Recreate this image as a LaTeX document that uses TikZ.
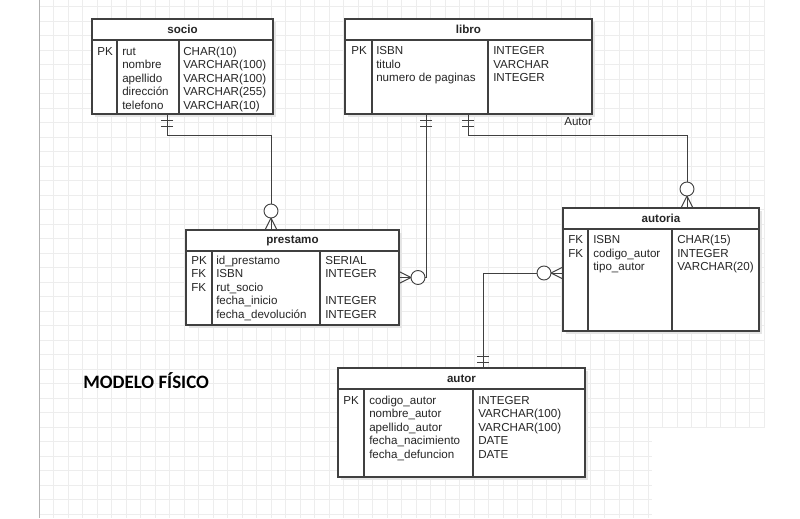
\documentclass[tikz,border=0pt]{standalone}
\usepackage{fontspec}
\setmainfont{Liberation Sans}
\newfontfamily\labelfont{Carlito}
\usetikzlibrary{calc,fit}

\tikzset{
  gridline/.style={draw=black!7,line width=0.5pt},
  tablebox/.style={draw=black!75,fill=white,line width=0.8pt,inner sep=0pt,outer sep=0pt},
  rule/.style={draw=black!75,line width=0.8pt},
  cell/.style={inner sep=0pt,anchor=base west,text=black!85,font=\fontsize{8.7}{10}\selectfont},
  title/.style={inner sep=0pt,text=black!85,font=\fontsize{8.7}{10}\selectfont\bfseries},
  link/.style={draw=black!75,line width=0.7pt},
  pics/onlyone/.style={code={
    \draw[link] (6,-6) -- (6,6);
    \draw[link] (12,-6) -- (12,6);}},
  pics/zeromany/.style={code={
    \draw[link] (0,-6) -- (12,0) -- (0,6);
    \draw[link] (0,0) -- (12,0);
    \draw[link,fill=white] (19,0) circle (7);}},
}

% table: name, x1, y1, x2, y2, column 1, column 2, title
\newcommand{\ertable}[8]{%
  \fill[black!10] (#2+3,#3+3) rectangle (#4+3,#5+3);
  \node[tablebox,fit={(#2,#3) (#4,#5)}] (#1) {};
  \draw[rule] (#2,#3+21) -- (#4,#3+21);
  \draw[rule] (#6,#3+21) -- (#6,#5);
  \draw[rule] (#7,#3+21) -- (#7,#5);
  \node[title] (#1-title) at ({(#2+#4)/2},#3+10.5) {#8};
}
% column of cells: x, first baseline, name, entries
\newcommand{\ercol}[4]{%
  \foreach \t [count=\i] in {#4}
    \node[cell] (#3\i) at (#1,#2+13.5*\i-13.5) {\t};
}

\begin{document}
\begin{tikzpicture}[x=0.75pt,y=-0.75pt]
  \useasboundingbox (0,0) rectangle (800,518);
  % background grid
  \foreach \i in {0,...,50}
    \draw[gridline] (39+14.5*\i,0) -- (39+14.5*\i,518);
  \foreach \j in {0,...,35}
    \draw[gridline] (39,6.5+14.5*\j) -- (764,6.5+14.5*\j);
  \draw[black!30,line width=0.6pt] (39,0) -- (39,518);
  \fill[white] (652,428) rectangle (765,518);

  % tables
  \ertable{socio}{92}{19}{273}{114}{117}{179}{socio}
  \ercol{97}{55}{socio-k}{PK}
  \ercol{122}{55}{socio-n}{rut,nombre,apellido,dirección,telefono}
  \ercol{183}{55}{socio-t}{CHAR(10),VARCHAR(100),VARCHAR(100),VARCHAR(255),VARCHAR(10)}

  \ertable{libro}{345}{19}{592}{114}{372}{488}{libro}
  \ercol{351}{54.5}{libro-k}{PK}
  \ercol{376}{54.5}{libro-n}{ISBN,titulo,numero de paginas}
  \ercol{493}{54.5}{libro-t}{INTEGER,VARCHAR,INTEGER}

  \ertable{prestamo}{186}{230}{399}{325}{212}{320}{prestamo}
  \ercol{191}{264}{prestamo-k}{PK,FK,FK}
  \ercol{216}{264}{prestamo-n}{id\_prestamo,ISBN,rut\_socio,fecha\_inicio,fecha\_devolución}
  \ercol{325}{264}{prestamo-t}{SERIAL,INTEGER,,INTEGER,INTEGER}

  \ertable{autoria}{563}{208}{759}{331}{588}{672}{autoria}
  \ercol{568}{243.5}{autoria-k}{FK,FK}
  \ercol{593}{243.5}{autoria-n}{ISBN,codigo\_autor,tipo\_autor}
  \ercol{677}{243.5}{autoria-t}{CHAR(15),INTEGER,VARCHAR(20)}

  \ertable{autor}{338}{368}{585}{477}{364}{473}{autor}
  \ercol{343}{404}{autor-k}{PK}
  \ercol{369}{404}{autor-n}{codigo\_autor,nombre\_autor,apellido\_autor,fecha\_nacimiento,fecha\_defuncion}
  \ercol{478}{404}{autor-t}{INTEGER,VARCHAR(100),VARCHAR(100),DATE,DATE}

  % connector ends
  \coordinate (socio-a) at ($(socio.south west)+(75,0)$);
  \coordinate (prestamo-a) at ($(prestamo.north west)+(85,0)$);
  \coordinate (libro-a) at ($(libro.south west)+(81,0)$);
  \coordinate (libro-b) at ($(libro.south west)+(123,0)$);
  \coordinate (autoria-a) at ($(autoria.north west)+(124,0)$);
  \coordinate (autoria-b) at ($(autoria.north west)+(0,65)$);
  \coordinate (autor-a) at ($(autor.north west)+(145,0)$);

  % relations
  \draw[link] (socio-a) -- ++(0,21) -| (prestamo-a);
  \draw[link] (libro-a) |- (prestamo.east);
  \draw[link] (libro-b) -- ++(0,21) -| (autoria-a);
  \draw[link] (autor-a) |- (autoria-b);

  \pic[rotate=-90] at (socio-a) {onlyone};
  \pic[rotate=-90] at (libro-a) {onlyone};
  \pic[rotate=-90] at (libro-b) {onlyone};
  \pic[rotate=90] at (autor-a) {onlyone};
  \pic[rotate=90] at (prestamo-a) {zeromany};
  \pic at (prestamo.east) {zeromany};
  \pic[rotate=90] at (autoria-a) {zeromany};
  \pic[rotate=180] at (autoria-b) {zeromany};

  \node[cell] (autor-label) at (564,125) {Autor};
  \node[anchor=base west,inner sep=0pt,font=\labelfont\bfseries\fontsize{14.2}{16}\selectfont]
    (modelo) at (83,388) {MODELO FÍSICO};
\end{tikzpicture}
\end{document}
